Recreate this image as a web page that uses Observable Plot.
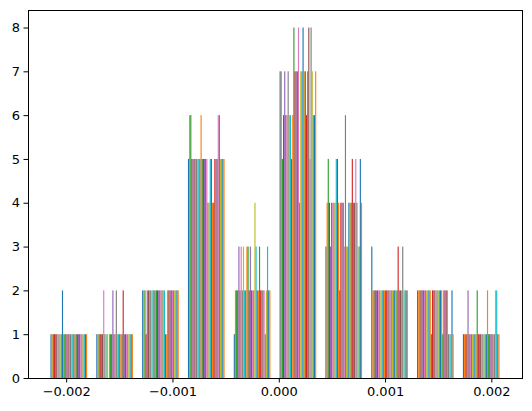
<!DOCTYPE html>
<html><head><meta charset="utf-8">
<script src="https://cdn.jsdelivr.net/npm/d3@7"></script>
<script src="https://cdn.jsdelivr.net/npm/@observablehq/plot@0.6"></script>
<style>html,body{margin:0;padding:0;background:#fff;} svg{display:block}</style>
</head><body><div id="chart"></div>
<script>
// Histogram bin layout (10 bins) and 32 data series
const binStart = -0.002191;
const binWidth = 0.0004311;
const seriesCount = 32;

// Counts per bin, one value per series
const bin1  = [1,1,1,1,1,1,1,1,1,1,2,1,1,1,1,1,1,1,1,1,1,1,1,1,1,1,1,1,1,1,1,1];
const bin2  = [1,1,1,1,1,1,2,1,1,1,0,1,1,1,2,1,1,2,1,1,1,1,1,2,1,1,1,1,1,1,1,1];
const bin3  = [2,2,2,1,2,2,2,2,2,2,2,2,2,2,2,2,2,2,2,2,1,1,2,2,2,2,2,2,2,2,2,2];
const bin4  = [5,6,6,5,5,5,5,5,5,5,5,6,5,5,5,5,5,4,4,5,5,4,4,5,5,5,6,6,5,5,5,5];
const bin5  = [1,2,2,2,3,2,3,2,3,2,2,3,3,2,3,2,2,2,4,3,2,2,3,2,2,2,2,1,2,3,2,2];
const bin6  = [7,7,5,6,7,6,6,7,6,6,5,6,8,7,7,7,8,4,7,7,8,7,7,6,7,8,5,8,7,6,6,7];
const bin7  = [3,4,5,4,3,4,4,4,4,5,5,4,2,4,4,4,3,6,3,3,4,4,4,5,4,4,5,4,3,3,5,4];
const bin8  = [3,2,2,2,2,2,2,2,2,2,2,2,2,2,2,2,2,2,2,2,2,2,2,3,2,2,2,3,2,2,2,2];
const bin9  = [2,2,2,2,2,2,2,2,2,2,2,2,1,2,2,2,2,2,2,2,2,2,1,2,2,2,2,1,1,1,2,1];
const bin10 = [1,1,1,1,2,1,1,1,1,1,1,1,2,1,1,1,1,1,1,1,1,2,1,1,1,1,1,1,2,2,1,1];

const xTicks = [-0.002, -0.001, 0, 0.001, 0.002];
const yTicks = [0,1,2,3,4,5,6,7,8];
const palette = d3.schemeCategory10; // matplotlib tab10

const bins = [bin1,bin2,bin3,bin4,bin5,bin6,bin7,bin8,bin9,bin10];
const barW = 0.8 * binWidth / seriesCount;
const rows = [];
bins.forEach((counts, b) => {
  const left = binStart + b * binWidth + 0.1 * binWidth;
  counts.forEach((c, i) => {
    if (c > 0) rows.push({x1: left + i * barW, x2: left + (i + 1) * barW, y: c, color: palette[i % 10]});
  });
});

const dataMin = binStart + 0.1 * binWidth;
const dataMax = binStart + 9.9 * binWidth;
const pad = 0.05 * (dataMax - dataMin);
const yMax = d3.max(bins.flat()) * 1.05;
const fmt = d => d3.format(".3f")(d);

const chart = Plot.plot({
  width: 532,
  height: 411,
  marginLeft: 28,
  marginRight: 10,
  marginTop: 10,
  marginBottom: 33,
  style: {fontFamily: "DejaVu Sans", fontSize: "13px", color: "black", background: "white"},
  x: {domain: [dataMin - pad, dataMax + pad], label: null},
  y: {domain: [0, yMax], label: null},
  marks: [
    Plot.rect(rows, {x1: "x1", x2: "x2", y1: 0, y2: "y", fill: "color"}),
    Plot.frame({stroke: "black", strokeWidth: 1}),
    Plot.axisX({ticks: xTicks, tickFormat: fmt, tickSize: 4.5, tickPadding: 4, fontSize: 13, label: null}),
    Plot.axisY({ticks: yTicks, tickFormat: d => String(d), tickSize: 4.5, tickPadding: 4, fontSize: 13, label: null})
  ]
});
document.getElementById("chart").appendChild(chart);
</script>
</body></html>
